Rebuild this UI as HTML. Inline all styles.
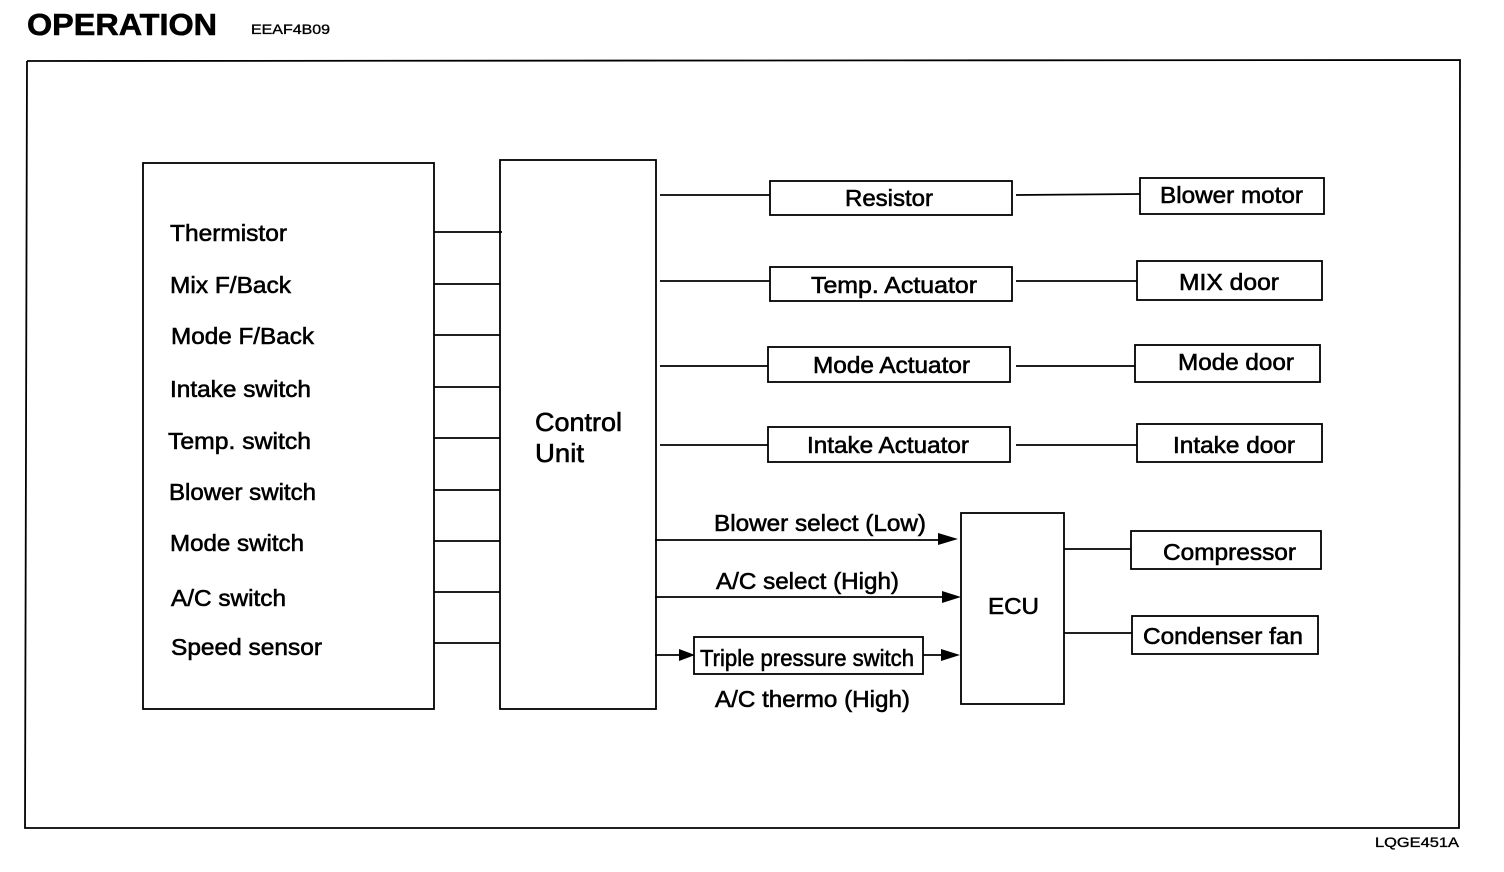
<!DOCTYPE html>
<html><head><meta charset="utf-8">
<style>
html,body{margin:0;padding:0;background:#fff}
svg{display:block}
text{font-family:"Liberation Sans",Arial,sans-serif;fill:#000;stroke:#000;stroke-width:.6px}
line,rect,polyline{stroke:#000;stroke-width:1.8;fill:none}
polygon{fill:#000;stroke:none}
.l{font-size:23.5px}
</style></head><body>
<svg width="1504" height="872" viewBox="0 0 1504 872" xmlns="http://www.w3.org/2000/svg">
<text x="27" y="35" textLength="190" lengthAdjust="spacingAndGlyphs" style="font-size:31px;font-weight:bold">OPERATION</text>
<text x="251" y="34" textLength="79" lengthAdjust="spacingAndGlyphs" style="font-size:14px;stroke-width:.35px">EEAF4B09</text>
<text x="1375" y="847" textLength="84" lengthAdjust="spacingAndGlyphs" style="font-size:14px;stroke-width:.35px">LQGE451A</text>
<polyline points="27,61 1460,60 1459,828 25,828 27,61"/>
<rect x="143" y="163" width="291" height="546"/>
<rect x="500" y="160" width="156" height="549"/>
<g class="l" lengthAdjust="spacingAndGlyphs">
<text class="l" x="170" y="241" textLength="117" lengthAdjust="spacingAndGlyphs">Thermistor</text>
<text class="l" x="170" y="293" textLength="121" lengthAdjust="spacingAndGlyphs">Mix F/Back</text>
<text class="l" x="171" y="344" textLength="143" lengthAdjust="spacingAndGlyphs">Mode F/Back</text>
<text class="l" x="170" y="397" textLength="141" lengthAdjust="spacingAndGlyphs">Intake switch</text>
<text class="l" x="168" y="449" textLength="143" lengthAdjust="spacingAndGlyphs">Temp. switch</text>
<text class="l" x="169" y="500" textLength="147" lengthAdjust="spacingAndGlyphs">Blower switch</text>
<text class="l" x="170" y="551" textLength="134" lengthAdjust="spacingAndGlyphs">Mode switch</text>
<text class="l" x="171" y="606" textLength="115" lengthAdjust="spacingAndGlyphs">A/C switch</text>
<text class="l" x="171" y="655" textLength="151" lengthAdjust="spacingAndGlyphs">Speed sensor</text>
<text class="l" x="535" y="431" textLength="87" lengthAdjust="spacingAndGlyphs" style="font-size:26px">Control</text>
<text class="l" x="535" y="462" textLength="49" lengthAdjust="spacingAndGlyphs" style="font-size:26px">Unit</text>
<text class="l" x="845" y="206" textLength="88" lengthAdjust="spacingAndGlyphs">Resistor</text>
<text class="l" x="811" y="293" textLength="166" lengthAdjust="spacingAndGlyphs">Temp. Actuator</text>
<text class="l" x="813" y="373" textLength="157" lengthAdjust="spacingAndGlyphs">Mode Actuator</text>
<text class="l" x="807" y="453" textLength="162" lengthAdjust="spacingAndGlyphs">Intake Actuator</text>
<text class="l" x="1160" y="203" textLength="143" lengthAdjust="spacingAndGlyphs">Blower motor</text>
<text class="l" x="1179" y="290" textLength="100" lengthAdjust="spacingAndGlyphs">MIX door</text>
<text class="l" x="1178" y="370" textLength="116" lengthAdjust="spacingAndGlyphs">Mode door</text>
<text class="l" x="1173" y="453" textLength="122" lengthAdjust="spacingAndGlyphs">Intake door</text>
<text class="l" x="714" y="531" textLength="212" lengthAdjust="spacingAndGlyphs">Blower select (Low)</text>
<text class="l" x="716" y="589" textLength="183" lengthAdjust="spacingAndGlyphs">A/C select (High)</text>
<text class="l" x="700" y="666" textLength="214" lengthAdjust="spacingAndGlyphs">Triple pressure switch</text>
<text class="l" x="715" y="707" textLength="195" lengthAdjust="spacingAndGlyphs">A/C thermo (High)</text>
<text class="l" x="988" y="614" textLength="51" lengthAdjust="spacingAndGlyphs">ECU</text>
<text class="l" x="1163" y="560" textLength="133" lengthAdjust="spacingAndGlyphs">Compressor</text>
<text class="l" x="1143" y="644" textLength="160" lengthAdjust="spacingAndGlyphs">Condenser fan</text>
</g>
<line x1="434" y1="232" x2="502" y2="232"/>
<line x1="434" y1="284" x2="500" y2="284"/>
<line x1="434" y1="335" x2="500" y2="335"/>
<line x1="434" y1="387" x2="500" y2="387"/>
<line x1="434" y1="438" x2="500" y2="438"/>
<line x1="434" y1="490" x2="500" y2="490"/>
<line x1="434" y1="541" x2="500" y2="541"/>
<line x1="434" y1="592" x2="500" y2="592"/>
<line x1="434" y1="643" x2="500" y2="643"/>
<rect x="770" y="181" width="242" height="34"/>
<rect x="770" y="267" width="242" height="34"/>
<rect x="768" y="347" width="242" height="35"/>
<rect x="768" y="427" width="242" height="35"/>
<rect x="1140" y="178" width="184" height="36"/>
<rect x="1137" y="261" width="185" height="39"/>
<rect x="1135" y="345" width="185" height="37"/>
<rect x="1137" y="424" width="185" height="38"/>
<rect x="961" y="513" width="103" height="191"/>
<rect x="1131" y="531" width="190" height="38"/>
<rect x="1132" y="616" width="186" height="38"/>
<rect x="694" y="637" width="229" height="37"/>
<line x1="660" y1="195" x2="770" y2="195"/>
<line x1="660" y1="281" x2="770" y2="281"/>
<line x1="660" y1="366" x2="768" y2="366"/>
<line x1="660" y1="445" x2="768" y2="445"/>
<line x1="1016" y1="195" x2="1140" y2="194"/>
<line x1="1016" y1="281" x2="1137" y2="281"/>
<line x1="1016" y1="366" x2="1135" y2="366"/>
<line x1="1016" y1="445" x2="1137" y2="445"/>
<line x1="1064" y1="549" x2="1131" y2="549"/>
<line x1="1064" y1="633" x2="1132" y2="633"/>
<line x1="655" y1="540" x2="945" y2="540"/>
<polygon points="958,539 938,533 938,545"/>
<line x1="655" y1="597" x2="945" y2="597"/>
<polygon points="961,597 942,591 942,603"/>
<line x1="655" y1="655" x2="682" y2="655"/>
<polygon points="695,655 679,649 679,661"/>
<line x1="923" y1="655" x2="945" y2="655"/>
<polygon points="960,655 941,649 941,661"/>
</svg>
</body></html>
